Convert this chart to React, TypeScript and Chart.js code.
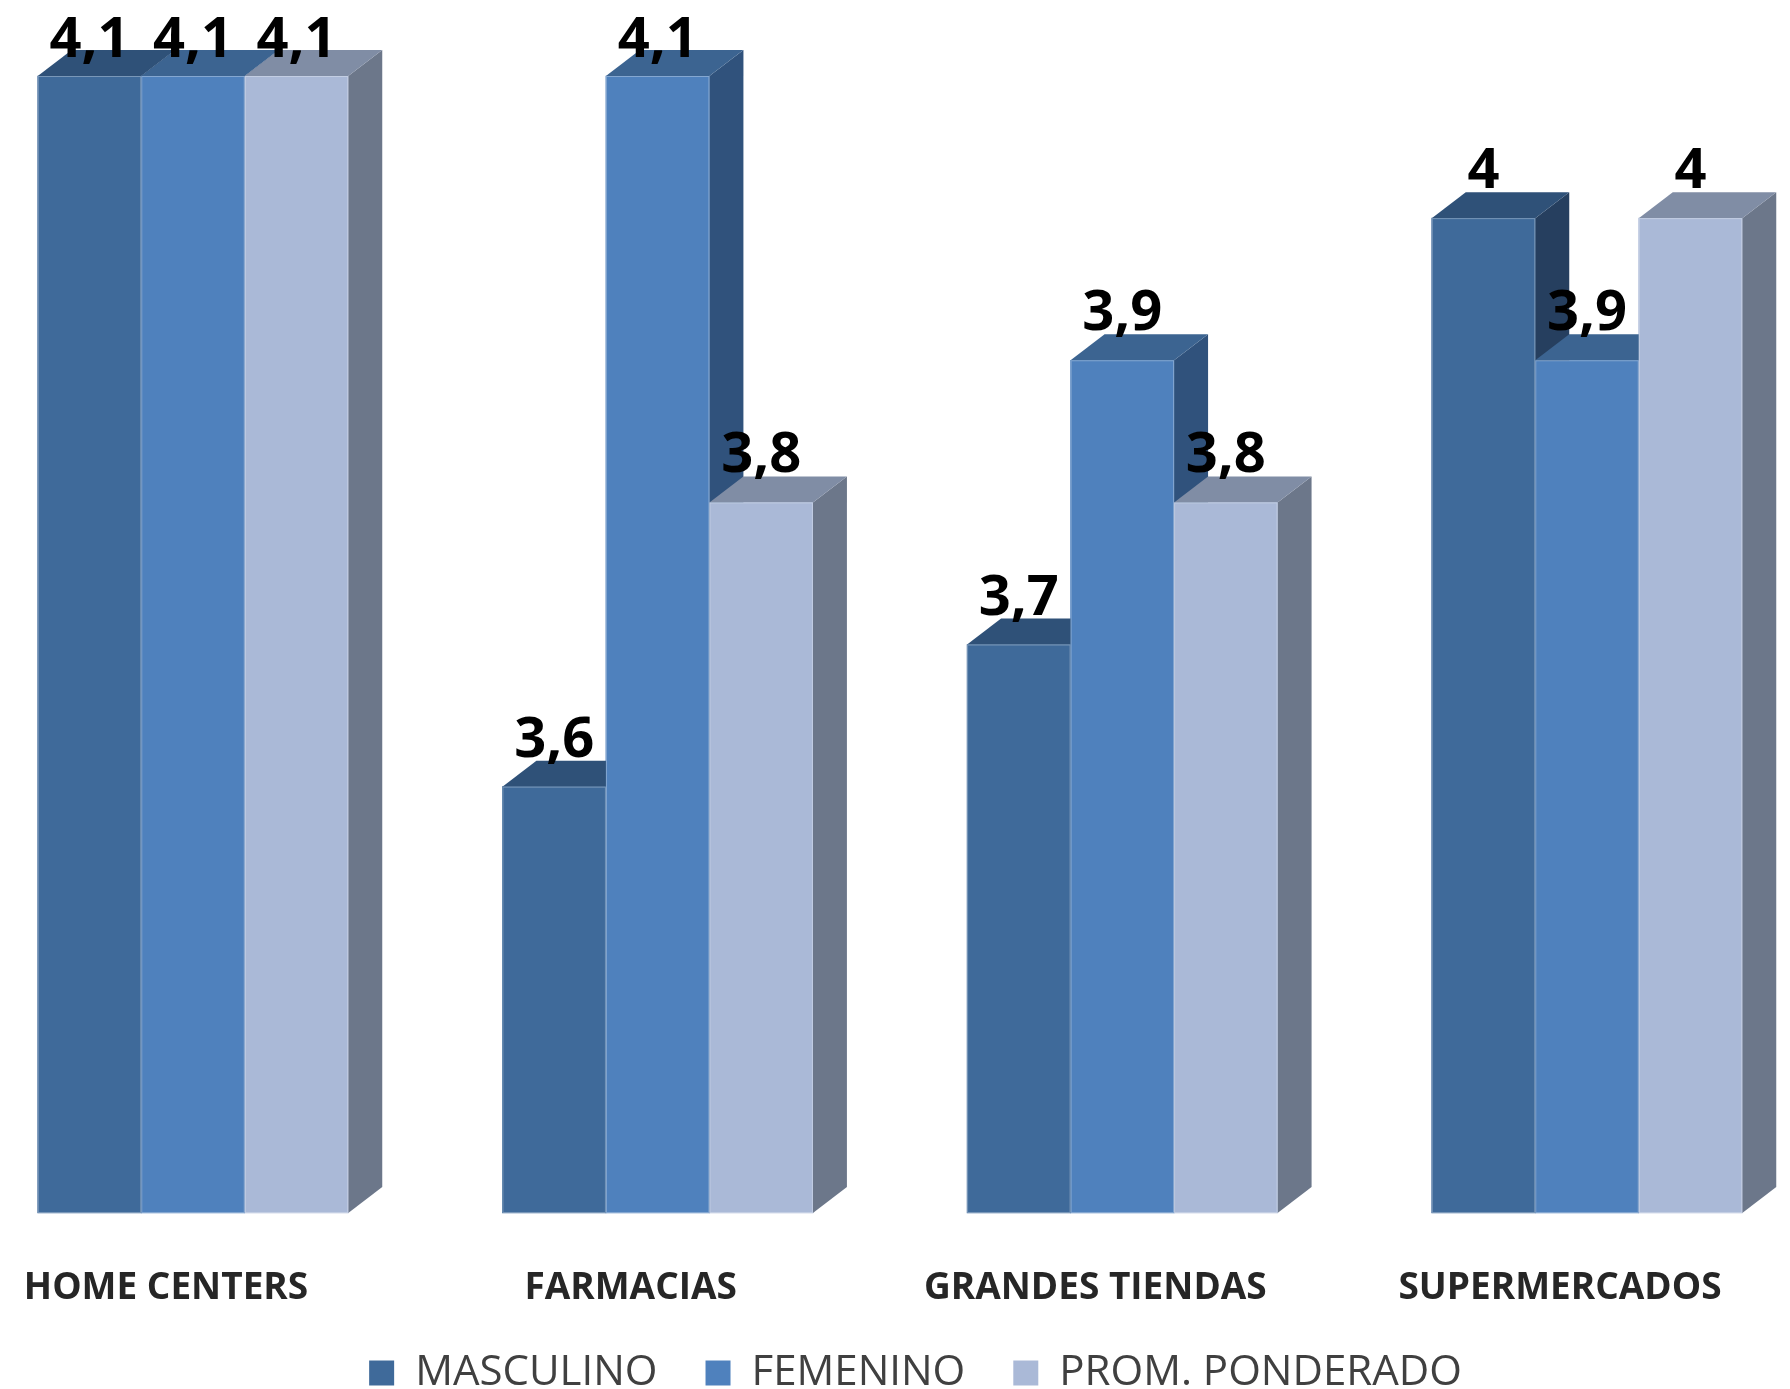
import { useEffect, useRef } from 'react';
import { Chart, registerables } from 'chart.js';

Chart.register(...registerables);

// Categories and series
const categories = ['HOME CENTERS', 'FARMACIAS', 'GRANDES TIENDAS', 'SUPERMERCADOS'];
const seriesNames = ['MASCULINO', 'FEMENINO', 'PROM. PONDERADO'];
const masculino = [4.1, 3.6, 3.7, 4.0];
const femenino = [4.1, 4.1, 3.9, 3.9];
const promPonderado = [4.1, 3.8, 3.8, 4.0];

// Value axis range
const Y_MIN = 3.3;
const Y_MAX = 4.1;

// Face colours for the extruded bars: front, top and right side
const faceColors = [
  { front: '#3F6A9A', top: '#2F5178', side: '#263F5F' },
  { front: '#4F81BD', top: '#3C6491', side: '#30527C' },
  { front: '#AAB9D7', top: '#808DA5', side: '#6C778A' },
];

const DEPTH_X = 34;
const DEPTH_Y = 26;
const FONT = '"Open Sans", "DejaVu Sans", sans-serif';

const formatValue = (v: number) => String(v).replace('.', ',');

// Draws each bar as a box (side, top, front) and its value label above it
const boxes3d = {
  id: 'boxes3d',
  afterDatasetsDraw(chart: any) {
    const ctx: CanvasRenderingContext2D = chart.ctx;
    const metas = chart.data.datasets.map((_: any, d: number) => chart.getDatasetMeta(d));
    const count = chart.data.labels.length;
    ctx.save();
    for (let i = 0; i < count; i++) {
      metas.forEach((meta: any, d: number) => {
        const el = meta.data[i];
        const { x, y, base, width } = el.getProps(['x', 'y', 'base', 'width'], true);
        const left = x - width / 2;
        const right = x + width / 2;
        const c = faceColors[d];
        // right side
        ctx.fillStyle = c.side;
        ctx.beginPath();
        ctx.moveTo(right, y);
        ctx.lineTo(right + DEPTH_X, y - DEPTH_Y);
        ctx.lineTo(right + DEPTH_X, base - DEPTH_Y);
        ctx.lineTo(right, base);
        ctx.closePath();
        ctx.fill();
        // top
        ctx.fillStyle = c.top;
        ctx.beginPath();
        ctx.moveTo(left, y);
        ctx.lineTo(left + DEPTH_X, y - DEPTH_Y);
        ctx.lineTo(right + DEPTH_X, y - DEPTH_Y);
        ctx.lineTo(right, y);
        ctx.closePath();
        ctx.fill();
        // front
        ctx.fillStyle = c.front;
        ctx.fillRect(left, y, width, base - y);
        ctx.strokeStyle = 'rgba(255,255,255,0.3)';
        ctx.lineWidth = 1;
        ctx.strokeRect(left + 0.5, y + 0.5, width - 1, base - y - 1);
      });
    }
    // value labels
    ctx.font = `bold 56px ${FONT}`;
    ctx.fillStyle = '#000000';
    ctx.textAlign = 'center';
    ctx.textBaseline = 'alphabetic';
    const minBaseline = chart.chartArea.top - 19;
    metas.forEach((meta: any, d: number) => {
      const values = chart.data.datasets[d].data;
      meta.data.forEach((el: any, i: number) => {
        const { x, y } = el.getProps(['x', 'y'], true);
        const baseline = Math.max(y - 30, minBaseline);
        ctx.fillText(formatValue(values[i]), x, baseline);
      });
    });
    ctx.restore();
  },
};

export default function App() {
  const canvasRef = useRef<HTMLCanvasElement | null>(null);

  useEffect(() => {
    document.body.style.margin = '0';
    const canvas = canvasRef.current;
    if (!canvas) return;
    const seriesData = [masculino, femenino, promPonderado];
    const chart = new Chart(canvas, {
      type: 'bar',
      data: {
        labels: categories,
        datasets: seriesNames.map((name, d) => ({
          label: name,
          data: seriesData[d],
          base: Y_MIN,
          backgroundColor: faceColors[d].front,
          borderWidth: 0,
          barThickness: 103.5,
          clip: false as any,
        })),
      },
      options: {
        responsive: false,
        animation: false,
        devicePixelRatio: 1,
        layout: { padding: { top: 76, left: 193, right: 152, bottom: -15 } },
        scales: {
          x: {
            offset: false,
            grid: { display: false, drawTicks: true, tickLength: 53 },
            border: { display: false },
            ticks: {
              padding: 0,
              labelOffset: -27,
              maxRotation: 0,
              autoSkip: false,
              color: '#262626',
              font: { family: FONT, size: 37, weight: 'bold' },
            },
            afterFit: (scale: any) => {
              scale.height = 91;
            },
          },
          y: {
            position: 'right',
            min: Y_MIN,
            max: Y_MAX,
            ticks: { display: false },
            grid: { display: false, drawTicks: false },
            border: { display: false },
            afterFit: (scale: any) => {
              scale.width = 51;
            },
          },
        },
        plugins: {
          legend: {
            position: 'bottom',
            labels: {
              boxWidth: 25,
              boxHeight: 25,
              padding: 48,
              color: '#404040',
              font: { family: FONT, size: 42 },
            },
          },
          tooltip: { enabled: false },
        },
      },
      plugins: [boxes3d],
    });
    return () => chart.destroy();
  }, []);

  return (
    <div style={{ width: 1790, height: 1389, background: '#ffffff' }}>
      <canvas ref={canvasRef} width={1790} height={1389} style={{ display: 'block' }} />
    </div>
  );
}
